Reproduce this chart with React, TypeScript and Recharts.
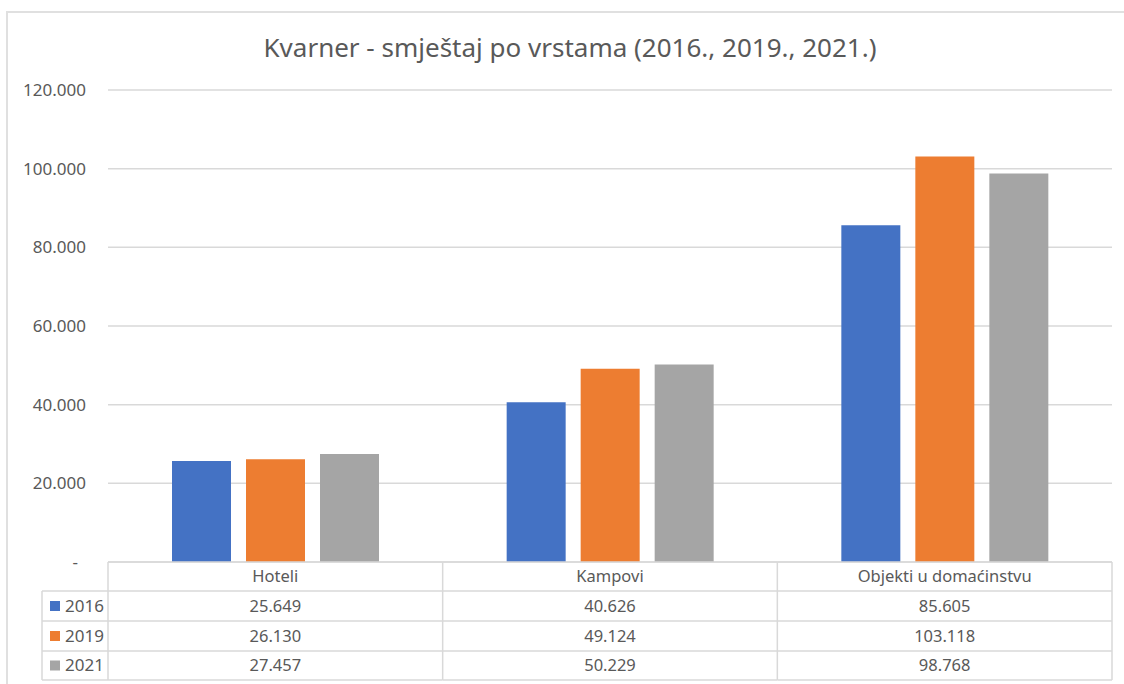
import { BarChart, Bar, XAxis, YAxis, CartesianGrid } from 'recharts';

const categories = ['Hoteli', 'Kampovi', 'Objekti u domaćinstvu'];
const years = ['2016', '2019', '2021'];
const values2016 = [25649, 40626, 85605];
const values2019 = [26130, 49124, 103118];
const values2021 = [27457, 50229, 98768];
const yTicks = [0, 20000, 40000, 60000, 80000, 100000, 120000];

const seriesValues = [values2016, values2019, values2021];
const COLORS = ['#4472C4', '#ED7D31', '#A5A5A5'];
const FONT = '"Noto Sans", "Open Sans", sans-serif';
const TEXT = '#595959';
const LINE = '#d9d9d9';

const W = 1124;
const H = 684;
const PLOT_LEFT = 108;
const PLOT_RIGHT = 12;
const PLOT_TOP = 90;
const PLOT_BOTTOM = 562;
const CELL_W = (W - PLOT_LEFT - PLOT_RIGHT) / categories.length;
const ROWS = [562, 591, 621, 651, 680];
const LEGEND_LEFT = 42;

const data = categories.map((name, i) => ({
  name,
  y2016: values2016[i],
  y2019: values2019[i],
  y2021: values2021[i],
}));

const fmt = (v: number) => String(v).replace(/\B(?=(\d{3})+(?!\d))/g, '.');

function YTick({ x, y, payload }: any) {
  const v = payload.value as number;
  if (v === 0) {
    return (
      <text x={x - 8} y={y} dy="0.35em" textAnchor="end" fill={TEXT} fontSize={17} fontFamily={FONT}>
        -
      </text>
    );
  }
  return (
    <text x={x} y={y} dy="0.35em" textAnchor="end" fill={TEXT} fontSize={17} fontFamily={FONT}>
      {fmt(v)}
    </text>
  );
}

// data table under the plot, one column per category tick
function TableTick({ x, payload }: any) {
  const idx = categories.indexOf(payload.value);
  const left = x - CELL_W / 2;
  const right = x + CELL_W / 2;
  const rowMid = (r: number) => (ROWS[r] + ROWS[r + 1]) / 2;
  return (
    <g>
      {ROWS.map((ry) => (
        <line key={`h${ry}`} x1={left} x2={right} y1={ry} y2={ry} stroke={LINE} strokeWidth={1.5} />
      ))}
      <line x1={left} x2={left} y1={ROWS[0]} y2={ROWS[4]} stroke={LINE} strokeWidth={1.5} />
      {idx === categories.length - 1 && (
        <line x1={right} x2={right} y1={ROWS[0]} y2={ROWS[4]} stroke={LINE} strokeWidth={1.5} />
      )}
      <text x={x} y={rowMid(0)} dy="0.35em" textAnchor="middle" fill={TEXT} fontSize={16.5} fontFamily={FONT}>
        {payload.value}
      </text>
      {seriesValues.map((vals, s) => (
        <text key={s} x={x} y={rowMid(s + 1)} dy="0.35em" textAnchor="middle" fill={TEXT} fontSize={16.5} fontFamily={FONT}>
          {fmt(vals[idx])}
        </text>
      ))}
      {idx === 0 && (
        <g>
          {ROWS.slice(1).map((ry) => (
            <line key={`l${ry}`} x1={LEGEND_LEFT} x2={left} y1={ry} y2={ry} stroke={LINE} strokeWidth={1.5} />
          ))}
          <line x1={LEGEND_LEFT} x2={LEGEND_LEFT} y1={ROWS[1]} y2={ROWS[4]} stroke={LINE} strokeWidth={1.5} />
          {years.map((yr, s) => (
            <g key={yr}>
              <rect x={50} y={rowMid(s + 1) - 5} width={10} height={10} fill={COLORS[s]} />
              <text x={65} y={rowMid(s + 1)} dy="0.35em" fill={TEXT} fontSize={17} fontFamily={FONT}>
                {yr}
              </text>
            </g>
          ))}
        </g>
      )}
    </g>
  );
}

export default function App() {
  return (
    <div style={{ position: 'absolute', left: 0, top: 0, width: W, height: H, background: '#fff', overflow: 'hidden' }}>
      <div
        style={{
          position: 'absolute',
          left: 6,
          top: 11,
          width: W + 20,
          height: H + 20,
          border: '2px solid #e0e0e0',
        }}
      />
      <div
        style={{
          position: 'absolute',
          left: 0,
          width: 1140,
          top: 29,
          textAlign: 'center',
          fontFamily: FONT,
          fontSize: 26,
          color: TEXT,
          lineHeight: '36px',
        }}
      >
        Kvarner - smještaj po vrstama (2016., 2019., 2021.)
      </div>
      <BarChart
        width={W}
        height={H}
        data={data}
        margin={{ top: PLOT_TOP, right: PLOT_RIGHT, left: 0, bottom: 4 }}
        barSize={59}
        barGap={15}
        style={{ position: 'absolute', left: 0, top: 0 }}
      >
        <CartesianGrid vertical={false} stroke={LINE} strokeWidth={1.5} />
        <XAxis
          dataKey="name"
          height={H - 4 - PLOT_BOTTOM}
          axisLine={false}
          tickLine={false}
          interval={0}
          tick={<TableTick />}
        />
        <YAxis
          width={PLOT_LEFT}
          domain={[0, 120000]}
          ticks={yTicks}
          axisLine={false}
          tickLine={false}
          tickSize={0}
          tickMargin={22}
          tick={<YTick />}
        />
        <Bar dataKey="y2016" fill={COLORS[0]} isAnimationActive={false} />
        <Bar dataKey="y2019" fill={COLORS[1]} isAnimationActive={false} />
        <Bar dataKey="y2021" fill={COLORS[2]} isAnimationActive={false} />
      </BarChart>
    </div>
  );
}
